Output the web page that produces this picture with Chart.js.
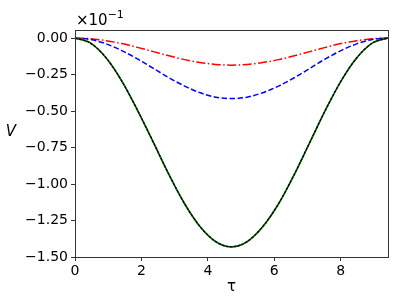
<!DOCTYPE html>
<html>
<head>
<meta charset="utf-8">
<script src="https://cdn.jsdelivr.net/npm/chart.js@4"></script>
<style>
  html, body { margin: 0; padding: 0; background: #fff; }
  #wrap { width: 407px; height: 305px; }
</style>
</head>
<body>
<div id="wrap"><canvas id="vChart" width="407" height="305"></canvas></div>
<script>
// tau samples (0 .. 3*pi)
const tau = [0, 0.47, 0.94, 1.41, 1.88, 2.36, 2.83, 3.30, 3.77, 4.24, 4.71,
             5.18, 5.65, 6.13, 6.60, 7.07, 7.54, 8.01, 8.48, 8.95, 9.42];

// V values in units of 1e-1
const vBig = [0, -0.035, -0.137, -0.295, -0.494, -0.715, -0.936, -1.135, -1.293, -1.395, -1.430,
              -1.395, -1.293, -1.135, -0.936, -0.715, -0.494, -0.295, -0.137, -0.035, 0];
const vMid = [0, -0.010, -0.040, -0.086, -0.143, -0.208, -0.272, -0.329, -0.375, -0.405, -0.415,
              -0.405, -0.375, -0.329, -0.272, -0.208, -0.143, -0.086, -0.040, -0.010, 0];
const vSmall = [0, -0.005, -0.018, -0.038, -0.064, -0.093, -0.122, -0.148, -0.168, -0.181, -0.186,
                -0.181, -0.168, -0.148, -0.122, -0.093, -0.064, -0.038, -0.018, -0.005, 0];

const xTicks = [0, 2, 4, 6, 8];
const yTicks = [-1.5, -1.25, -1.0, -0.75, -0.5, -0.25, 0.0];

const FONT = "'DejaVu Sans', sans-serif";

function toPoints(ys) {
    return tau.map((t, i) => ({ x: t, y: ys[i] }));
}

// frame + extra labels
const decorPlugin = {
    id: "decor",
    afterDraw(chart) {
        const ctx = chart.ctx;
        const a = chart.chartArea;
        ctx.save();
        ctx.strokeStyle = "#333";
        ctx.lineWidth = 1;
        ctx.strokeRect(a.left + 0.5, a.top + 0.5, a.right - a.left, a.bottom - a.top);

        ctx.fillStyle = "#000";
        ctx.textBaseline = "alphabetic";
        ctx.textAlign = "left";
        ctx.font = "15px " + FONT;
        ctx.fillText("\u00d710", a.left + 1, a.top - 5);
        const w = ctx.measureText("\u00d710").width;
        ctx.font = "11px " + FONT;
        ctx.fillText("\u22121", a.left + 1 + w, a.top - 12);

        ctx.font = "italic 15px " + FONT;
        ctx.textAlign = "center";
        ctx.fillText("V", 11, 136);
        ctx.restore();
    }
};

function createChart() {
    const ctx = document.getElementById("vChart").getContext("2d");

    const dashDot = {
        label: "small",
        data: toPoints(vSmall),
        borderColor: "#ff0000",
        borderWidth: 1.5,
        borderDash: [9, 2.5, 1.5, 2.5],
        pointRadius: 0,
        cubicInterpolationMode: "monotone",
        fill: false
    };
    const dashed = {
        label: "mid",
        data: toPoints(vMid),
        borderColor: "#0000ff",
        borderWidth: 1.5,
        borderDash: [5.5, 2.5],
        pointRadius: 0,
        cubicInterpolationMode: "monotone",
        fill: false
    };
    const greenLine = {
        label: "big",
        data: toPoints(vBig),
        borderColor: "#008000",
        borderWidth: 1.7,
        pointRadius: 0,
        cubicInterpolationMode: "monotone",
        fill: false
    };
    const blackLine = {
        label: "big2",
        data: toPoints(vBig),
        borderColor: "#000000",
        borderWidth: 1.3,
        borderDash: [3, 1],
        pointRadius: 0,
        cubicInterpolationMode: "monotone",
        fill: false
    };

    window.vChart = new Chart(ctx, {
        type: "line",
        data: { datasets: [blackLine, greenLine, dashed, dashDot] },
        options: {
            responsive: false,
            animation: false,
            layout: { padding: { top: 30, right: 19, left: 0, bottom: 9 } },
            plugins: { legend: { display: false }, tooltip: { enabled: false } },
            scales: {
                x: {
                    type: "linear",
                    min: 0,
                    max: 9.4248,
                    afterBuildTicks: s => { s.ticks = xTicks.map(v => ({ value: v })); },
                    afterFit: s => { s.height = 39; },
                    ticks: {
                        color: "#000",
                        font: { family: FONT, size: 14 },
                        padding: 2,
                        maxRotation: 0,
                        callback: v => String(v)
                    },
                    grid: { drawOnChartArea: false, drawTicks: true, tickLength: 4, color: "#333" },
                    border: { display: true, color: "#333" },
                    title: {
                        display: true,
                        text: "\u03c4",
                        color: "#000",
                        font: { family: FONT, size: 15 },
                        padding: { top: 0, bottom: 0 }
                    }
                },
                y: {
                    type: "linear",
                    min: -1.5,
                    max: 0.055,
                    afterBuildTicks: s => { s.ticks = yTicks.map(v => ({ value: v })); },
                    afterFit: s => { s.width = 75; },
                    ticks: {
                        color: "#000",
                        font: { family: FONT, size: 14 },
                        padding: 3,
                        callback: v => (v < 0 ? "\u2212" : "") + Math.abs(v).toFixed(2)
                    },
                    grid: { drawOnChartArea: false, drawTicks: true, tickLength: 4, color: "#333" },
                    border: { display: true, color: "#333" }
                }
            }
        },
        plugins: [decorPlugin]
    });
}

document.addEventListener("DOMContentLoaded", () => {
    createChart();
});
</script>
</body>
</html>
